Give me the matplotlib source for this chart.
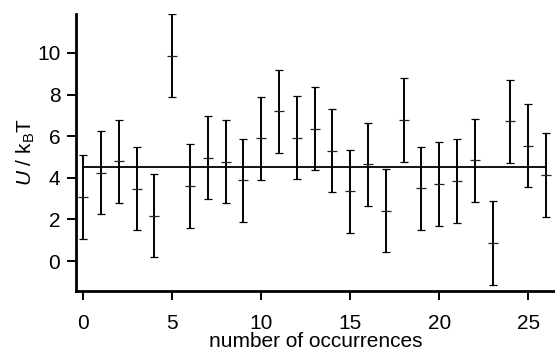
import matplotlib
matplotlib.use('Agg')
import matplotlib.pyplot as plt

# --- data
occurrences = [0, 1, 2, 3, 4, 5, 6, 7, 8, 9, 10, 11, 12, 13,
               14, 15, 16, 17, 18, 19, 20, 21, 22, 23, 24, 25, 26]
energy = [3.08, 4.24, 4.79, 3.48, 2.18, 9.86, 3.60, 4.97, 4.77, 3.87, 5.89, 7.20, 5.92, 6.35,
          5.30, 3.35, 4.65, 2.41, 6.77, 3.50, 3.70, 3.85, 4.83, 0.87, 6.71, 5.54, 4.13]
energy_err = [2.0, 2.0, 2.0, 2.0, 2.0, 2.0, 2.0, 2.0, 2.0, 2.0, 2.0, 2.0, 2.0, 2.0,
              2.0, 2.0, 2.0, 2.0, 2.0, 2.0, 2.0, 2.0, 2.0, 2.0, 2.0, 2.0, 2.0]
mean_level = 4.5
xticks = [0, 5, 10, 15, 20, 25]
yticks = [0, 2, 4, 6, 8, 10]

plt.rcParams['font.family'] = ['Liberation Sans', 'DejaVu Sans']
plt.rcParams['mathtext.fontset'] = 'custom'
plt.rcParams['mathtext.rm'] = 'Liberation Sans'
plt.rcParams['mathtext.it'] = 'Liberation Sans:italic'

fig = plt.figure(figsize=(5.55, 3.54), dpi=100)
ax = fig.add_axes([0.1375, 0.178, 0.8625, 0.782])

ax.errorbar(occurrences, energy, yerr=energy_err, fmt='_', color='#222222',
            ecolor='black', elinewidth=1.4, capsize=3.2, capthick=2.0,
            markersize=7, markeredgewidth=0.9)
ax.plot([min(occurrences), max(occurrences)], [mean_level, mean_level],
        color='black', lw=1.3)

ax.set_xlim(-0.39, 26.5)
ax.set_ylim(-1.44, 11.86)
ax.set_xticks(xticks)
ax.set_yticks(yticks)

for s in ['top', 'right']:
    ax.spines[s].set_visible(False)
for s in ['left', 'bottom']:
    ax.spines[s].set_linewidth(2.0)

ax.tick_params(direction='out', length=6.5, width=1.4, labelsize=15)
ax.tick_params(axis='x', pad=10)
ax.tick_params(axis='y', pad=5)

ax.set_xlabel('number of occurrences', fontsize=15, labelpad=-0.5)
ax.set_ylabel(r'$U$ / k$_\mathrm{B}$T', fontsize=15, labelpad=0)

fig.savefig('out.png', dpi=100)
